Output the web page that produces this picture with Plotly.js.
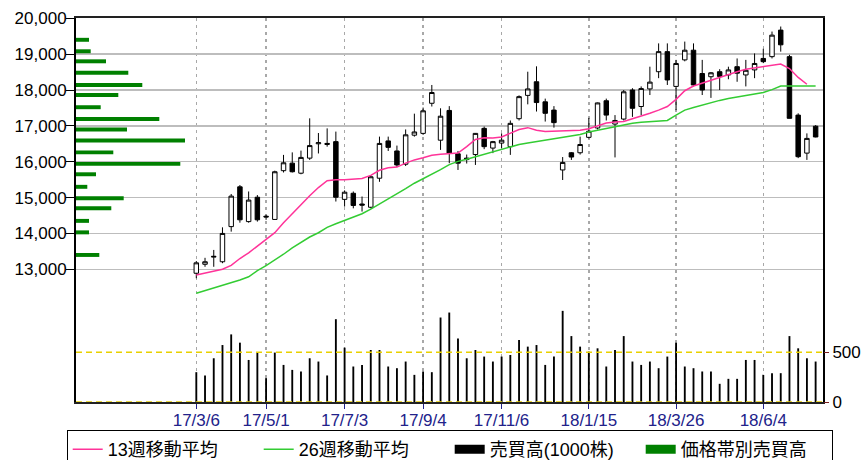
<!DOCTYPE html>
<html><head><meta charset="utf-8">
<script src="https://cdn.plot.ly/plotly-3.0.1.min.js"></script>
<style>html,body{margin:0;padding:0;background:#fff;} #chart{width:861px;height:460px;}</style>
</head><body><div id="chart"></div>
<script>
const weeks = [
'2017-03-06','2017-03-13','2017-03-20','2017-03-27','2017-04-03','2017-04-10','2017-04-17','2017-04-24',
'2017-05-01','2017-05-08','2017-05-15','2017-05-22','2017-05-29','2017-06-05','2017-06-12','2017-06-19','2017-06-26',
'2017-07-03','2017-07-10','2017-07-17','2017-07-24','2017-07-31','2017-08-07','2017-08-14','2017-08-21','2017-08-28',
'2017-09-04','2017-09-11','2017-09-18','2017-09-25','2017-10-02','2017-10-09','2017-10-16','2017-10-23','2017-10-30',
'2017-11-06','2017-11-13','2017-11-20','2017-11-27','2017-12-04','2017-12-11','2017-12-18','2017-12-25',
'2018-01-01','2018-01-08','2018-01-15','2018-01-22','2018-01-29','2018-02-05','2018-02-12','2018-02-19','2018-02-26',
'2018-03-05','2018-03-12','2018-03-19','2018-03-26','2018-04-02','2018-04-09','2018-04-16','2018-04-23','2018-04-30',
'2018-05-07','2018-05-14','2018-05-21','2018-05-28','2018-06-04','2018-06-11','2018-06-18','2018-06-25',
'2018-07-02','2018-07-09','2018-07-16'];

const openP = [12890,13140,13340,13210,14190,15300,14330,15010,14480,14390,
 15750,15960,15680,16100,16500,16480,16560,14950,15120,14820,
 14730,15540,16580,16300,15930,16740,16790,17630,16600,17430,
 16220,16060,16200,16930,16380,16520,16420,17200,17850,18230,
 17670,17440,15770,16250,16250,16680,16940,17700,17050,17190,
 18000,17540,18030,18510,19070,18100,18840,19110,18460,18370,
 18510,18420,18650,18420,18560,18880,18930,19670,18930,17300,
 16240,16990];
const highP = [13230,13320,13540,14170,15100,15350,15170,15070,14520,15750,
 16190,16260,16310,17210,16800,16930,16840,15200,15170,15030,
 15620,16700,16700,16450,16900,17340,17510,18140,17490,17550,
 16300,16200,16800,16980,16580,16790,17150,17850,18510,18660,
 17760,17550,16130,16270,16700,17220,17650,17760,17300,18000,
 18050,18100,18650,19300,19300,18840,19350,19300,18840,18500,
 18580,18650,18880,18840,19020,19150,19630,19770,18980,17350,
 16790,17020];
const lowP = [12750,13070,13070,13170,14050,14300,14300,14330,14380,14380,
 15700,15700,15650,16050,16230,16420,14890,14750,14700,14610,
 14700,15440,16300,15850,15880,16700,16750,17540,16330,15960,
 15770,15950,15910,16350,16240,16370,16190,17150,17600,17400,
 17120,16950,15490,16050,16200,16650,16900,17150,16120,17150,
 17250,17300,17860,18330,18140,17440,18800,18100,17860,17780,
 18000,18300,18230,18100,18330,18750,18880,19070,17210,16100,
 16050,16680];
const closeP = [13180,13210,13360,14000,15040,14380,14930,14380,14460,15720,
 15970,15720,16120,16450,16530,16510,15010,15150,14780,14790,
 15580,16510,16400,15910,16750,16830,17420,17930,17270,16240,
 15960,16100,16790,16420,16560,16600,17070,17815,18030,17650,
 17350,17090,15980,16130,16480,16850,17640,17300,17150,17950,
 17490,18040,18220,19070,18280,18740,19110,18140,18000,18480,
 18380,18560,18470,18550,18740,18790,19530,19260,17210,16140,
 16650,16690];

const volume = [300,267,440,573,680,597,423,497,240,497,
 373,323,307,440,407,267,833,547,357,373,
 523,523,357,340,407,273,307,300,850,900,
 640,440,523,457,407,457,473,623,557,573,
 373,457,917,663,557,507,540,357,523,663,
 407,373,407,340,457,597,357,340,307,307,
 183,233,233,423,423,273,290,290,663,540,
 440,407];

const ma13 = [12840,12890,12930,13000,13110,13300,13460,13640,13820,14020,
 14300,14560,14800,15050,15280,15470,15500,15500,15510,15530,
 15620,15760,15830,15850,15960,16050,16110,16180,16210,16220,
 16240,16420,16620,16670,16660,16690,16790,16900,16950,16880,
 16840,16850,16860,16870,16880,16920,17000,17080,17110,17120,
 17200,17270,17350,17440,17540,17740,17980,18110,18190,18270,
 18370,18450,18510,18580,18620,18650,18690,18725,18600,18350,
 18160,null];
const ma26 = [12330,12400,12470,12540,12610,12700,12790,12960,13100,13250,
 13420,13600,13760,13900,14020,14170,14270,14360,14450,14550,
 14680,14820,14950,15110,15250,15400,15520,15650,15780,15920,
 16010,16070,16140,16210,16280,16350,16420,16480,16520,16560,
 16590,16620,16660,16700,16760,16830,16880,16930,16980,17030,
 17070,17100,17120,17140,17150,17300,17440,17510,17580,17660,
 17710,17760,17800,17850,17890,17930,18010,18110,18115,18110,
 18110,18110];

const bandPrices = [19400,19080,18800,18480,18140,17860,17520,17190,16900,16590,16260,15940,15650,15300,14980,14700,14350,14030,13400];
const bandVolumes = [1300,1470,3000,5230,6630,4230,2470,8330,5100,10900,3730,10430,2000,1130,4770,3530,1300,1300,2330];

const tickDates = ['2017-03-06','2017-05-01','2017-07-03','2017-09-04','2017-11-06','2018-01-15','2018-03-26','2018-06-04'];
const tickLabels = ['17/3/6','17/5/1','17/7/3','17/9/4','17/11/6','18/1/15','18/3/26','18/6/4'];
const priceTicks = [13000,14000,15000,16000,17000,18000,19000,20000];
const volumeTicks = [0,500];
const volumeRefLevels = [0,500];

const names = ['13週移動平均','26週移動平均','売買高(1000株)','価格帯別売買高'];
const FONT = 'Liberation Sans, Noto Sans CJK JP, sans-serif';
const DAY = 86400000;

const traces = [
 {type:'bar', orientation:'h', x:bandVolumes, y:bandPrices, xaxis:'x2', yaxis:'y',
  width:110, marker:{color:'#008000'}, showlegend:false, hoverinfo:'skip'},
 {type:'candlestick', x:weeks, open:openP, high:highP, low:lowP, close:closeP,
  xaxis:'x', yaxis:'y', whiskerwidth:0, showlegend:false,
  increasing:{line:{color:'#000', width:1}, fillcolor:'#ffffff'},
  decreasing:{line:{color:'#000', width:1}, fillcolor:'#000000'}},
 {type:'scatter', mode:'lines', x:weeks, y:ma13, name:names[0], line:{color:'#ff3399', width:1.5}, xaxis:'x', yaxis:'y'},
 {type:'scatter', mode:'lines', x:weeks, y:ma26, name:names[1], line:{color:'#33cc33', width:1.5}, xaxis:'x', yaxis:'y'},
 {type:'bar', x:weeks, y:volume, xaxis:'x', yaxis:'y2', width:1.5*DAY, marker:{color:'#000'}, showlegend:false},
 {type:'scatter', mode:'lines', x:[null], y:[null], name:names[2], line:{color:'#000', width:9}, xaxis:'x', yaxis:'y'},
 {type:'scatter', mode:'lines', x:[null], y:[null], name:names[3], line:{color:'#008000', width:9}, xaxis:'x', yaxis:'y'}
];

const shapes = volumeRefLevels.map(v => ({type:'line', xref:'paper', x0:0, x1:1, yref:'y2', y0:v, y1:v,
  layer:'above', line:{color:'#e8d000', width:1.5, dash:'6px,4px'}}));

const layout = {
 width:861, height:460, margin:{l:76, r:38, t:18, b:58, autoexpand:false},
 paper_bgcolor:'#fff', plot_bgcolor:'#fff',
 font:{family:FONT, size:17, color:'#000'},
 boxgap:0.27,
 xaxis:{type:'date', range:['2016-11-29 11:00','2018-07-21 22:00'], rangeslider:{visible:false},
  tickvals:tickDates, ticktext:tickLabels, tickfont:{color:'#22228a', size:17}, ticklabelstandoff:-3,
  showgrid:true, gridcolor:'#a8a8a8', griddash:'3px,4px', gridwidth:1.5,
  ticks:'outside', ticklen:5, tickcolor:'#22228a',
  showline:true, mirror:true, linecolor:'#222', linewidth:2, zeroline:false, fixedrange:true},
 xaxis2:{overlaying:'x', range:[0,74700], visible:false, fixedrange:true},
 yaxis:{range:[9299,20008], tickvals:priceTicks, tickformat:',', showgrid:true, gridcolor:'#bdbdbd', gridwidth:1.5,
  ticks:'outside', ticklen:8, tickcolor:'#000', ticklabelstandoff:-4, showline:true, mirror:true, linecolor:'#000', linewidth:2,
  zeroline:false, fixedrange:true},
 yaxis2:{overlaying:'y', side:'right', range:[0,3863], tickvals:volumeTicks, showgrid:false, zeroline:false,
  ticks:'outside', ticklen:5, tickcolor:'#7a2020', fixedrange:true},
 shapes:shapes,
 showlegend:true,
 legend:{orientation:'h', x:-0.01245, xanchor:'left', y:-0.0729, yanchor:'top',
  bordercolor:'#000', borderwidth:1, font:{family:FONT, size:18, color:'#000'},
  entrywidth:146, entrywidthmode:'pixels', traceorder:'normal', bgcolor:'#fff'}
};

Plotly.newPlot('chart', traces, layout, {displayModeBar:false, staticPlot:true});
</script></body></html>
